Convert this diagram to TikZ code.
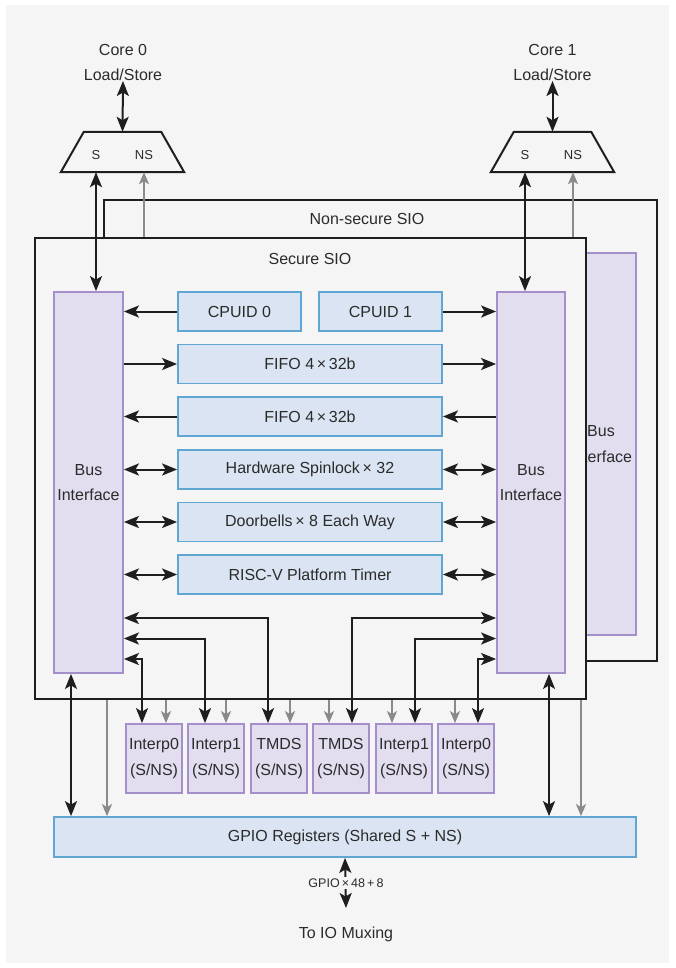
\documentclass[tikz,border=0pt]{standalone}
\usepackage{fontspec}
\setmainfont{Liberation Sans}
\usetikzlibrary{arrows.meta}
\definecolor{bg}{HTML}{F5F5F5}
\definecolor{purfill}{HTML}{E2DEF0}
\definecolor{purdraw}{HTML}{A58FCB}
\definecolor{bluefill}{HTML}{DAE4F2}
\definecolor{bluedraw}{HTML}{5FA6D2}
\definecolor{ink}{HTML}{1E1E1E}
\definecolor{txt}{HTML}{2B2B2B}
\definecolor{nsgray}{HTML}{8A8A8A}
\begin{document}
\begin{tikzpicture}[x=1pt,y=-1pt,
 every node/.style={font=\fontsize{16}{25.5}\selectfont, text=txt, inner sep=0pt},
 frame/.style={draw=ink, line width=2pt, fill=bg},
 busbox/.style={draw=purdraw, fill=purfill, line width=1.8pt, align=center},
 bluebox/.style={draw=bluedraw, fill=bluefill, line width=1.8pt},
 interpbox/.style={draw=purdraw, fill=purfill, line width=1.8pt, align=center, minimum width=56, minimum height=69},
 muxbox/.style={minimum width=123, minimum height=40},
 muxline/.style={draw=ink, line width=2pt, fill=bg, line join=miter},
 muxlab/.style={font=\fontsize{13}{15}\selectfont},
 conn/.style={draw=ink, line width=2pt, >={Stealth[length=15pt,width=12pt,inset=3.5pt]}},
 nsconn/.style={draw=nsgray, line width=1.7pt, -{Stealth[length=12pt,width=10pt,inset=3pt]}},
]
\fill[white] (0,0) rectangle (675,968);
\fill[bg] (6,5) rectangle (669,963);
\useasboundingbox (0,0) rectangle (675,968);

% non-secure SIO (behind)
\node[frame, minimum width=553, minimum height=461] (nssio) at (380.5,430.5) {};
\node (nslabel) at (367,219) {Non-secure SIO};
\node[busbox, minimum width=70, minimum height=382] (nsbus) at (601,444) {Bus\\Interface};

% secure SIO
\node[frame, minimum width=551, minimum height=461] (sec) at (310.5,468.5) {};
\node (seclabel) at (310,259) {Secure SIO};

\node[busbox, minimum width=69, minimum height=381] (busL) at (88.5,482.5) {Bus\\Interface};
\node[busbox, minimum width=68, minimum height=381] (busR) at (531,482.5) {Bus\\Interface};

\node[bluebox, minimum width=123, minimum height=39] (cpu0) at (239.5,311.5) {CPUID 0};
\node[bluebox, minimum width=123, minimum height=39] (cpu1) at (380.5,311.5) {CPUID 1};
\node[bluebox, minimum width=264, minimum height=39] (fifo1) at (310,364) {FIFO 4\,×\,32b};
\node[bluebox, minimum width=264, minimum height=39] (fifo2) at (310,416.5) {FIFO 4\,×\,32b};
\node[bluebox, minimum width=264, minimum height=39] (spin) at (310,469.5) {Hardware Spinlock\,× 32};
\node[bluebox, minimum width=264, minimum height=39] (door) at (310,522) {Doorbells\,× 8 Each Way};
\node[bluebox, minimum width=264, minimum height=39] (timer) at (310,574.5) {RISC-V Platform Timer};

% interp / tmds boxes
\node[interpbox] (i1) at (154,758.5) {Interp0\\(S/NS)};
\node[interpbox] (i2) at (216,758.5) {Interp1\\(S/NS)};
\node[interpbox] (i3) at (279,758.5) {TMDS\\(S/NS)};
\node[interpbox] (i4) at (341,758.5) {TMDS\\(S/NS)};
\node[interpbox] (i5) at (404,758.5) {Interp1\\(S/NS)};
\node[interpbox] (i6) at (466,758.5) {Interp0\\(S/NS)};

\node[bluebox, minimum width=582, minimum height=40] (gpio) at (345,837) {GPIO Registers (Shared S + NS)};
\node (io) at (346,934) {To IO Muxing};
\coordinate (ioTop) at (346,908);

% muxes and cores
\node[muxbox] (mux0) at (122.5,152) {};
\draw[muxline] (mux0.south west) -- (mux0.south east) -- ([xshift=-23pt]mux0.north east) -- ([xshift=23pt]mux0.north west) -- cycle;
\node[muxlab] (s0) at (96,155) {S};
\node[muxlab] (ns0) at (144,155) {NS};
\node[muxbox] (mux1) at (552.5,152) {};
\draw[muxline] (mux1.south west) -- (mux1.south east) -- ([xshift=-23pt]mux1.north east) -- ([xshift=23pt]mux1.north west) -- cycle;
\node[muxlab] (s1) at (525,155) {S};
\node[muxlab] (ns1) at (573,155) {NS};
\node[align=center, anchor=south] (core0) at (123,81) {Core 0\\Load/Store};
\node[align=center, anchor=south] (core1) at (552.5,81) {Core 1\\Load/Store};

\draw[conn,<->] (core0.south) -- (mux0.north);
\draw[conn,<->] (core1.south) -- (mux1.north);
\draw[conn,<->] (s0 |- mux0.south) -- (s0 |- busL.north);
\draw[conn,<->] (s1 |- mux1.south) -- (s1 |- busR.north);
\draw[nsconn] (ns0 |- sec.north) -- (ns0 |- mux0.south);
\draw[nsconn] (ns1 |- sec.north) -- (ns1 |- mux1.south);

% block connectors
\draw[conn,->] (cpu0.west) -- (cpu0.west -| busL.east);
\draw[conn,->] (cpu1.east) -- (cpu1.east -| busR.west);
\draw[conn,->] (fifo1.west -| busL.east) -- (fifo1.west);
\draw[conn,->] (fifo1.east) -- (fifo1.east -| busR.west);
\draw[conn,->] (fifo2.east -| busR.west) -- (fifo2.east);
\draw[conn,->] (fifo2.west) -- (fifo2.west -| busL.east);
\draw[conn,<->] (spin.west -| busL.east) -- (spin.west);
\draw[conn,<->] (spin.east) -- (spin.east -| busR.west);
\draw[conn,<->] (door.west -| busL.east) -- (door.west);
\draw[conn,<->] (door.east) -- (door.east -| busR.west);
\draw[conn,<->] (timer.west -| busL.east) -- (timer.west);
\draw[conn,<->] (timer.east) -- (timer.east -| busR.west);

% lower connectors
\coordinate (r1) at (0,618);
\coordinate (r2) at (0,638.5);
\coordinate (r3) at (0,659);
\draw[conn,<->] (busL.east |- r1) -| ([xshift=-11pt]i3.north);
\draw[conn,<->] (busL.east |- r2) -| ([xshift=-11pt]i2.north);
\draw[conn,<->] (busL.east |- r3) -| ([xshift=-12pt]i1.north);
\draw[conn,<->] (busR.west |- r1) -| ([xshift=11pt]i4.north);
\draw[conn,<->] (busR.west |- r2) -| ([xshift=11pt]i5.north);
\draw[conn,<->] (busR.west |- r3) -| ([xshift=12pt]i6.north);

\draw[nsconn] ([xshift=12pt]i1.north |- sec.south) -- ([xshift=12pt]i1.north);
\draw[nsconn] ([xshift=10pt]i2.north |- sec.south) -- ([xshift=10pt]i2.north);
\draw[nsconn] ([xshift=11pt]i3.north |- sec.south) -- ([xshift=11pt]i3.north);
\draw[nsconn] ([xshift=-12pt]i4.north |- sec.south) -- ([xshift=-12pt]i4.north);
\draw[nsconn] ([xshift=-12pt]i5.north |- sec.south) -- ([xshift=-12pt]i5.north);
\draw[nsconn] ([xshift=-11pt]i6.north |- sec.south) -- ([xshift=-11pt]i6.north);

% to GPIO
\coordinate (g1) at (107,0);
\coordinate (g2) at (581,0);
\draw[conn,<->] ([xshift=-17.5pt]busL.south) -- ([xshift=-17.5pt]busL.south |- gpio.north);
\draw[conn,<->] ([xshift=18pt]busR.south) -- ([xshift=18pt]busR.south |- gpio.north);
\draw[nsconn] (g1 |- sec.south) -- (g1 |- gpio.north);
\draw[nsconn] (g2 |- sec.south) -- (g2 |- gpio.north);

\draw[conn,<->] (gpio.south) -- (ioTop);
\node[font=\fontsize{12.5}{14}\selectfont, fill=bg, inner sep=1.5pt] (glab) at (346,883) {GPIO\,×\,48\,+\,8};
\end{tikzpicture}
\end{document}
